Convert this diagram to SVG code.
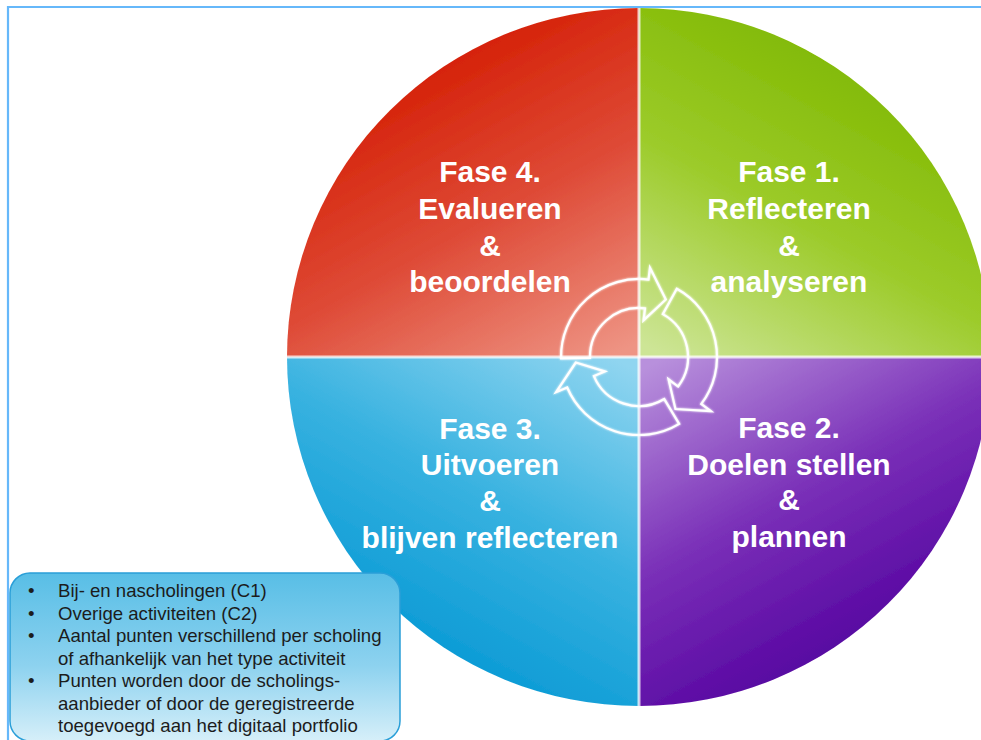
<svg xmlns="http://www.w3.org/2000/svg" width="981" height="740" viewBox="0 0 981 740">
<defs>
<linearGradient id="gRed" gradientUnits="userSpaceOnUse" x1="450" y1="30" x2="625" y2="350">
<stop offset="0" stop-color="#d41c02"/><stop offset="0.5" stop-color="#de4a36"/><stop offset="1" stop-color="#ee9484"/>
</linearGradient>
<linearGradient id="gGreen" gradientUnits="userSpaceOnUse" x1="828" y1="30" x2="653" y2="350">
<stop offset="0" stop-color="#7fb800"/><stop offset="0.5" stop-color="#9ccb2a"/><stop offset="1" stop-color="#cde596"/>
</linearGradient>
<linearGradient id="gBlue" gradientUnits="userSpaceOnUse" x1="450" y1="684" x2="625" y2="364">
<stop offset="0" stop-color="#0698d4"/><stop offset="0.5" stop-color="#38b2e0"/><stop offset="1" stop-color="#90d5f0"/>
</linearGradient>
<linearGradient id="gPurple" gradientUnits="userSpaceOnUse" x1="828" y1="684" x2="653" y2="364">
<stop offset="0" stop-color="#52009e"/><stop offset="0.5" stop-color="#7a30b8"/><stop offset="1" stop-color="#b890dc"/>
</linearGradient>
<linearGradient id="gBox" x1="0" y1="0" x2="0" y2="1">
<stop offset="0" stop-color="#58bee6"/><stop offset="0.55" stop-color="#8dd2ef"/><stop offset="1" stop-color="#d6eff9"/>
</linearGradient>
<filter id="soft" x="-5%" y="-5%" width="110%" height="110%"><feGaussianBlur stdDeviation="0.6"/></filter>
<filter id="glow" x="-20%" y="-20%" width="140%" height="140%">
<feGaussianBlur in="SourceGraphic" stdDeviation="1.2" result="b"/>
<feMerge><feMergeNode in="b"/><feMergeNode in="SourceGraphic"/></feMerge>
</filter>
<path id="seg" d="M -70.1 34.2 A 78 78 0 0 1 -24.1 -74.2 L -27.8 -85.6 L 0 -63.5 L -11.4 -35.2 L -15.1 -46.6 A 49 49 0 0 0 -44.1 21.5 Z"/>
</defs>
<style>
.q text{font-family:"Liberation Sans",Arial,sans-serif;font-weight:bold;font-size:30px;fill:#ffffff;text-anchor:middle}
.box text{font-family:"Liberation Sans",Arial,sans-serif;font-size:18.6px;fill:#1c1c1c}
.div{stroke:#ffffff;stroke-opacity:0.75;stroke-width:3}
.arrow{fill:none;stroke:#ffffff;stroke-width:2.2;stroke-linejoin:miter}
</style>
<rect x="0" y="0" width="981" height="740" fill="#ffffff"/>
<path d="M8 740 V7 H981" fill="none" stroke="#66b8fa" stroke-width="2.2"/>

<g filter="url(#soft)">
<path d="M639 357 V8 A352 349 0 0 0 287 357 Z" fill="url(#gRed)"/>
<path d="M639 357 V8 A352 349 0 0 1 991 357 Z" fill="url(#gGreen)"/>
<path d="M639 357 H287 A352 349 0 0 0 639 706 Z" fill="url(#gBlue)"/>
<path d="M639 357 H991 A352 349 0 0 1 639 706 Z" fill="url(#gPurple)"/>
<line class="div" x1="639" y1="8" x2="639" y2="706"/>
<line class="div" x1="287" y1="357" x2="991" y2="357"/>
</g>

<g id="fase4" class="q">
<text x="490" y="182">Fase 4.</text>
<text x="490" y="219">Evalueren</text>
<text x="490" y="256">&amp;</text>
<text x="490" y="292">beoordelen</text>
</g>
<g id="fase1" class="q">
<text x="789" y="182">Fase 1.</text>
<text x="789" y="219">Reflecteren</text>
<text x="789" y="256">&amp;</text>
<text x="789" y="292">analyseren</text>
</g>
<g id="fase3" class="q">
<text x="490" y="439">Fase 3.</text>
<text x="490" y="475">Uitvoeren</text>
<text x="490" y="511">&amp;</text>
<text x="490" y="548">blijven reflecteren</text>
</g>
<g id="fase2" class="q">
<text x="789" y="438">Fase 2.</text>
<text x="789" y="475">Doelen stellen</text>
<text x="789" y="510">&amp;</text>
<text x="789" y="547">plannen</text>
</g>

<g id="connectors" filter="url(#glow)">
<use href="#seg" class="arrow" transform="translate(639 357) rotate(25)"/>
<use href="#seg" class="arrow" transform="translate(639 357) rotate(145)"/>
<use href="#seg" class="arrow" transform="translate(639 357) rotate(265)"/>
</g>

<g id="infobox" class="box">
<rect x="10" y="573" width="390" height="168" rx="20" ry="20" fill="url(#gBox)" stroke="#2a9fd8" stroke-width="1.5"/>
<text x="28" y="597">•</text><text x="58" y="597">Bij- en nascholingen (C1)</text>
<text x="28" y="619.5">•</text><text x="58" y="619.5">Overige activiteiten (C2)</text>
<text x="28" y="642">•</text><text x="58" y="642">Aantal punten verschillend per scholing</text>
<text x="58" y="664.5">of afhankelijk van het type activiteit</text>
<text x="28" y="687">•</text><text x="58" y="687">Punten worden door de scholings-</text>
<text x="58" y="709.5">aanbieder of door de geregistreerde</text>
<text x="58" y="732">toegevoegd aan het digitaal portfolio</text>
</g>
</svg>
